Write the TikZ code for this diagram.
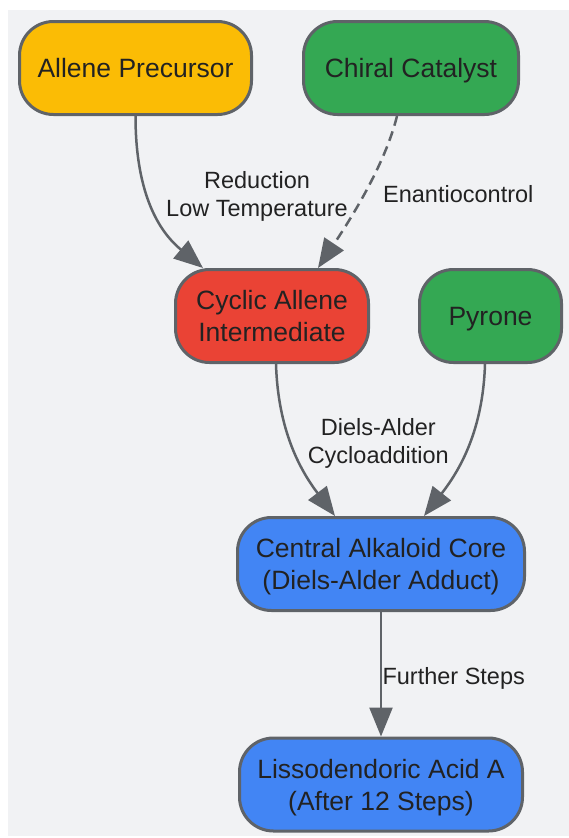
\documentclass[tikz,border=0pt]{standalone}
\usepackage{fontspec}
\setmainfont{Liberation Sans}
\usetikzlibrary{arrows.meta}
\definecolor{bgc}{HTML}{F1F2F4}
\definecolor{edgec}{HTML}{5F6368}
\definecolor{txtc}{HTML}{222222}
\definecolor{yel}{HTML}{FBBC05}
\definecolor{grn}{HTML}{34A853}
\definecolor{rd}{HTML}{EA4335}
\definecolor{blu}{HTML}{4285F4}
\tikzset{
  box/.style={draw=edgec, line width=3pt, rounded corners=34pt, minimum height=93pt,
    align=center, text=txtc, text depth=0pt, inner sep=0pt,
    font=\fontsize{26.5}{32}\selectfont},
  elabel/.style={text=txtc, align=center, inner sep=0pt, text depth=0pt,
    font=\fontsize{23.5}{28}\selectfont},
  conn/.style={draw=edgec, line width=2.5pt, -{Triangle[length=29pt,width=23pt]}}
}
\begin{document}
\begin{tikzpicture}[x=1pt,y=-1pt]
\useasboundingbox (0,0) rectangle (569,838);
\fill[white] (0,0) rectangle (569,838);
\fill[bgc] (8,10) rectangle (569,836);

\node[box, fill=yel, minimum width=232pt] (allene) at (135.5,68) {Allene Precursor};
\node[box, fill=grn, minimum width=215pt] (chiral) at (411,68) {Chiral Catalyst};
\node[box, fill=rd, minimum width=193pt] (cyc) at (272,316) {Cyclic Allene\\Intermediate};
\node[box, fill=grn, minimum width=142pt] (pyrone) at (490.5,316) {Pyrone};
\node[box, fill=blu, minimum width=287pt] (core) at (381,564) {Central Alkaloid Core\\(Diels-Alder Adduct)};
\node[box, fill=blu, minimum width=283pt] (liss) at (381,784.5) {Lissodendoric Acid A\\(After 12 Steps)};

\draw[conn] (allene.south) .. controls +(0,90) and +(-36,-30) .. ([xshift=-69pt]cyc.north);
\draw[conn, dash pattern=on 10pt off 6pt] ([xshift=-14pt]chiral.south) .. controls +(-12,49) and +(32,-48) .. ([xshift=46pt]cyc.north);
\draw[conn] ([xshift=4pt]cyc.south) .. controls +(2,66) and +(-35,-46) .. ([xshift=-46pt]core.north);
\draw[conn] ([xshift=-5.5pt]pyrone.south) .. controls +(-2,66) and +(36,-46) .. ([xshift=43pt]core.north);
\draw[conn] (core.south) -- (liss.north);

\node[elabel] (l1) at (257,193.5) {Reduction\\Low Temperature};
\node[elabel] (l2) at (458.3,193.7) {Enantiocontrol};
\node[elabel] (l3) at (378.3,441.4) {Diels-Alder\\Cycloaddition};
\node[elabel, anchor=west] (l4) at (382.3,675.7) {Further Steps};
\end{tikzpicture}
\end{document}
